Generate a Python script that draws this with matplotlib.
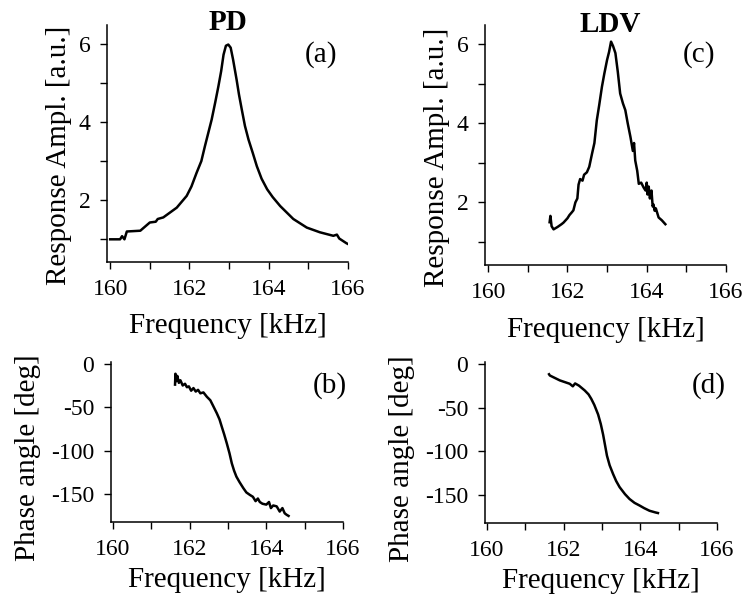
import matplotlib
matplotlib.use("Agg")
import matplotlib.pyplot as plt
from matplotlib.ticker import MultipleLocator

plt.rcParams['font.family'] = ['Liberation Serif', 'DejaVu Serif']
plt.rcParams['axes.unicode_minus'] = False

# ---- data ----
# (a) PD response amplitude
freq_a = [160.0, 160.25, 160.3, 160.36, 160.42, 160.76, 161.0, 161.15, 161.2, 161.34,
          161.68, 161.93, 162.05, 162.18, 162.3, 162.39, 162.47, 162.56, 162.65, 162.73,
          162.8, 162.86, 162.92, 162.98, 163.04, 163.1, 163.19, 163.25, 163.32, 163.4,
          163.49, 163.6, 163.70, 163.82, 163.96, 164.1, 164.29, 164.62, 164.96, 165.29,
          165.63, 165.72, 165.78, 165.96, 166.0]
amp_a = [1.0, 1.0, 1.08, 1.0, 1.2, 1.22, 1.43, 1.45, 1.52, 1.56,
         1.81, 2.11, 2.35, 2.70, 3.0, 3.38, 3.7, 4.06, 4.5, 4.91,
         5.3, 5.72, 5.95, 5.98, 5.9, 5.6, 5.08, 4.7, 4.32, 3.9,
         3.55, 3.2, 2.87, 2.55, 2.28, 2.08, 1.85, 1.52, 1.30, 1.18,
         1.09, 1.12, 1.02, 0.9, 0.88]

# (c) LDV response amplitude
freq_c = [161.55, 161.57, 161.6, 161.65, 161.75, 161.85, 161.9, 162.0, 162.05, 162.11,
          162.15, 162.2, 162.25, 162.28, 162.32, 162.38, 162.42, 162.49, 162.55, 162.62,
          162.68, 162.74, 162.8, 162.87, 162.93, 163.0, 163.05, 163.1, 163.15, 163.21,
          163.27, 163.33, 163.4, 163.46, 163.52, 163.59, 163.65, 163.68, 163.71, 163.76,
          163.8, 163.86, 163.92, 163.97, 164.0, 164.02, 164.05, 164.08, 164.12, 164.15,
          164.17, 164.2, 164.23, 164.3, 164.38, 164.47]
amp_c = [1.50, 1.66, 1.40, 1.32, 1.38, 1.45, 1.49, 1.60, 1.68, 1.75,
         1.80, 2.0, 2.1, 2.45, 2.59, 2.55, 2.70, 2.76, 2.90, 3.23,
         3.50, 4.07, 4.45, 4.92, 5.25, 5.6, 5.8, 6.06, 5.95, 5.77,
         5.3, 4.75, 4.5, 4.33, 4.0, 3.65, 3.3, 3.5, 3.06, 2.8,
         2.47, 2.5, 2.38, 2.3, 2.5, 2.2, 2.4, 2.1, 2.3, 1.9,
         1.95, 1.79, 1.85, 1.62, 1.55, 1.45]

# (b) PD phase angle
freq_b = [161.62, 161.63, 161.65, 161.68, 161.72, 161.76, 161.82, 161.88, 161.93, 161.98,
          162.04, 162.1, 162.16, 162.22, 162.28, 162.36, 162.45, 162.54, 162.62, 162.71,
          162.78, 162.84, 162.9, 162.97, 163.04, 163.1, 163.16, 163.22, 163.3, 163.4,
          163.48, 163.57, 163.65, 163.72, 163.78, 163.83, 163.9, 164.0, 164.07, 164.12,
          164.18, 164.27, 164.35, 164.42, 164.48, 164.53, 164.58]
phase_b = [-24, -11.5, -20, -14, -22, -19, -25, -23, -27, -26,
           -31, -28, -32, -30, -34, -33, -38, -42, -49, -57,
           -64, -72.6, -81, -91.6, -103, -114.5, -123, -129.8, -136, -143,
           -148, -150.8, -153, -158, -155, -159, -161, -162, -159, -166,
           -163, -164, -170, -166, -172, -173.7, -175]

# (d) LDV phase angle
freq_d = [161.62, 161.64, 161.9, 162.16, 162.24, 162.3, 162.4, 162.55, 162.65, 162.72,
          162.8, 162.9, 162.97, 163.03, 163.08, 163.13, 163.2, 163.29, 163.37, 163.46,
          163.6, 163.72, 163.85, 163.98, 164.1, 164.24, 164.4, 164.46]
phase_d = [-12, -13.4, -19, -22.9, -25.8, -22.5, -25, -30.5, -35, -40,
           -47, -58, -69, -81, -93, -105, -116, -126, -134, -141,
           -149, -154.6, -159, -162, -165, -168, -170, -170.6]

x_ticks = [160, 162, 164, 166]
amp_ticks = [2, 4, 6]
phase_ticks = [0, -50, -100, -150]

W, H = 746, 598
fig = plt.figure(figsize=(W / 100, H / 100), dpi=100)


def rect(l, t, r, b):
    return [l / W, 1 - b / H, (r - l) / W, (b - t) / H]


def style(ax):
    for s in ['top', 'right']:
        ax.spines[s].set_visible(False)
    for s in ['left', 'bottom']:
        ax.spines[s].set_linewidth(1.1)
    ax.tick_params(which='both', direction='out', length=5, width=1.0,
                   labelsize=17, pad=7)
    ax.xaxis.set_minor_locator(MultipleLocator(1))
    ax.set_xticks(x_ticks)


ax_a = fig.add_axes(rect(107, 25, 348, 262))
ax_c = fig.add_axes(rect(485, 25, 726, 265))
ax_b = fig.add_axes(rect(111, 362, 343, 522))
ax_d = fig.add_axes(rect(485, 362, 717, 523))

lw = 1.8
ax_a.plot(freq_a, amp_a, color='black', lw=lw)
ax_c.plot(freq_c, amp_c, color='black', lw=lw)
ax_b.plot(freq_b, phase_b, color='black', lw=lw)
ax_d.plot(freq_d, phase_d, color='black', lw=lw)

for ax in (ax_a, ax_c):
    style(ax)
    ax.set_xlim(159.92, 166.0)
    ax.set_ylim(0.42, 6.48)
    ax.set_yticks(amp_ticks)
    ax.yaxis.set_minor_locator(MultipleLocator(1))
    ax.set_xlabel('Frequency [kHz]', fontsize=21)
    ax.set_ylabel('Response Ampl. [a.u.]', fontsize=21)
    ax.xaxis.set_label_coords(0.5, -0.215)
    ax.yaxis.set_label_coords(-0.145, 0.45)

for ax in (ax_b, ax_d):
    style(ax)
    ax.set_xlim(159.95, 166.0)
    ax.set_ylim(-182, 2)
    ax.set_yticks(phase_ticks)
    ax.set_xlabel('Frequency [kHz]', fontsize=21)
    ax.set_ylabel('Phase angle [deg]', fontsize=21)
    ax.xaxis.set_label_coords(0.5, -0.28)
    ax.yaxis.set_label_coords(-0.30, 0.40)


def ftext(px, py, s, **kw):
    fig.text(px / W, 1 - py / H, s, **kw)


ftext(228, 30, 'PD', fontsize=21, fontweight='bold', ha='center', va='baseline')
ftext(610, 32, 'LDV', fontsize=21, fontweight='bold', ha='center', va='baseline')
ftext(337, 62, '(a)', fontsize=21, ha='right', va='baseline')
ftext(715, 62, '(c)', fontsize=21, ha='right', va='baseline')
ftext(347, 393, '(b)', fontsize=21, ha='right', va='baseline')
ftext(726, 393, '(d)', fontsize=21, ha='right', va='baseline')

fig.savefig('out.png', dpi=100)
